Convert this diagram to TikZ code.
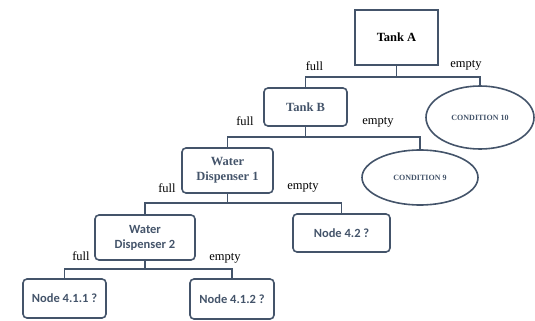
\documentclass[tikz,border=0pt]{standalone}
\usepackage{fontspec}
\setmainfont{Liberation Serif}
\newfontfamily\calibri{Carlito}
\usepackage{tikz}
\usetikzlibrary{calc,positioning,shapes.geometric}
\definecolor{slate}{HTML}{44546A}
\tikzset{
  tree/.style={draw=slate, line width=1.4pt},
  box/.style={draw=slate, line width=1.6pt, rounded corners=4pt, align=center, inner sep=2pt, text=slate},
  serifbox/.style={box, font=\bfseries\fontsize{12.5}{15}\selectfont},
  sqbox/.style={serifbox, sharp corners, text=black},
  sansbox/.style={box, font=\calibri\bfseries\fontsize{12.5}{15}\selectfont},
  oval/.style={ellipse, draw=slate, line width=1.6pt, inner sep=0pt, text=slate, font=\bfseries\fontsize{8}{9}\selectfont},
  lbl/.style={inner sep=0pt, font=\fontsize{12.5}{15}\selectfont}
}
\begin{document}
\begin{tikzpicture}[x=1pt, y=-1pt]
  \useasboundingbox (0,0) rectangle (535,321);
  \node[sqbox, minimum width=83pt, minimum height=55pt] (tankA) at (396.5,37.5) {Tank A};
  \node[serifbox, minimum width=83pt, minimum height=38pt] (tankB) at (305.5,107) {Tank B};
  \node[oval, minimum width=108pt, minimum height=63pt] (cond10) at (480,117.5) {CONDITION 10};
  \node[serifbox, minimum width=91pt, minimum height=45pt] (wd1) at (227.5,170.5) {Water\\Dispenser 1};
  \node[oval, minimum width=116pt, minimum height=55pt] (cond9) at (420,177.5) {CONDITION 9};
  \node[sansbox, minimum width=100pt, minimum height=45pt] (wd2) at (145,237.5) {Water\\Dispenser 2};
  \node[sansbox, minimum width=97pt, minimum height=38pt] (n42) at (341.5,233) {Node 4.2 ?};
  \node[sansbox, minimum width=83pt, minimum height=39pt] (n411) at (64.5,298.5) {Node 4.1.1 ?};
  \node[sansbox, minimum width=84pt, minimum height=40pt] (n412) at (232,299) {Node 4.1.2 ?};

  \coordinate (jA) at (396.5,77);
  \coordinate (jB) at (305.5,137);
  \coordinate (jW1) at (227.5,203);
  \coordinate (jW2) at (145,269);

  \draw[tree] (tankA) -- (jA) -| (tankB.north);
  \draw[tree] (jA) -| (cond10.north);
  \draw[tree] (tankB) -- (jB) -| (wd1.north);
  \draw[tree] (jB) -| (cond9.north);
  \draw[tree] (wd1) -- (jW1) -| (wd2.north);
  \draw[tree] (jW1) -| (n42.north);
  \draw[tree] (wd2) -- (jW2) -| (n411.north);
  \draw[tree] (jW2) -| (n412.north);

  \node[lbl] (fullA) at (314.5,66) {full};
  \node[lbl] (emptyA) at (466,65) {empty};
  \node[lbl] (fullB) at (245,121) {full};
  \node[lbl] (emptyB) at (378,122) {empty};
  \node[lbl] (fullW1) at (167,188) {full};
  \node[lbl] (emptyW1) at (303,187) {empty};
  \node[lbl] (fullW2) at (81,256) {full};
  \node[lbl] (emptyW2) at (225,258) {empty};
\end{tikzpicture}
\end{document}
